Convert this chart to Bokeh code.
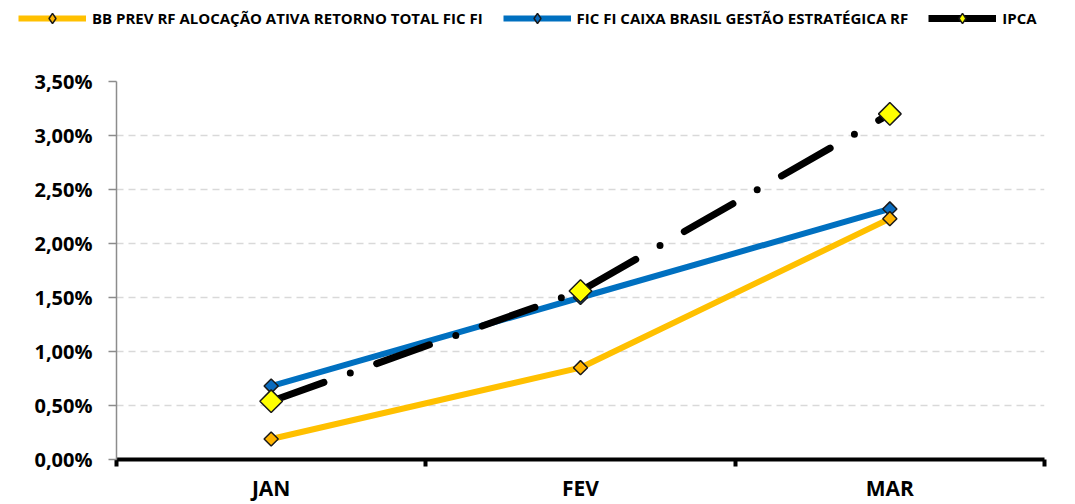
import math
from bokeh.plotting import figure
from bokeh.models import Range1d, FixedTicker, Legend, LegendItem
from bokeh.embed import file_html
from bokeh.resources import INLINE

# ---- data ----
months = ["JAN", "FEV", "MAR"]
bb_prev = [0.19, 0.85, 2.23]
caixa = [0.68, 1.50, 2.32]
ipca = [0.54, 1.56, 3.20]
series_names = [
    "BB PREV RF ALOCAÇÃO ATIVA RETORNO TOTAL FIC FI",
    "FIC FI CAIXA BRASIL GESTÃO ESTRATÉGICA RF",
    "IPCA",
]
y_ticks = [0.0, 0.5, 1.0, 1.5, 2.0, 2.5, 3.0, 3.5]
y_tick_labels = ["0,00%", "0,50%", "1,00%", "1,50%", "2,00%", "2,50%", "3,00%", "3,50%"]

x_pos = [i + 0.5 for i in range(len(months))]
x_bounds = [float(i) for i in range(len(months) + 1)]
series_values = [bb_prev, caixa, ipca]

FONT = "Open Sans"
COLORS_LINE = ["#FFC000", "#0070C0", "#000000"]
COLORS_MARK = ["#FFB400", "#0A6BBE", "#FFFF00"]
EDGE = "#1A1A1A"

# ---------- main chart ----------
p = figure(width=1075, height=468, output_backend="svg", toolbar_location=None,
           x_range=Range1d(0, len(months)), y_range=Range1d(0, 3.5),
           min_border_left=116, min_border_right=31, min_border_top=45, min_border_bottom=45)
p.outline_line_color = None
p.background_fill_color = "white"
p.border_fill_color = "white"

p.xgrid.grid_line_color = None
p.ygrid.ticker = FixedTicker(ticks=y_ticks)
p.ygrid.grid_line_color = "#D9D9D9"
p.ygrid.grid_line_width = 1.5
p.ygrid.grid_line_dash = "7 5"

p.yaxis.ticker = FixedTicker(ticks=y_ticks)
p.yaxis.major_label_overrides = {t: l for t, l in zip(y_ticks, y_tick_labels)}
p.yaxis.axis_line_color = "#8C8C8C"
p.yaxis.axis_line_width = 1.5
p.yaxis.major_tick_line_color = "#8C8C8C"
p.yaxis.major_tick_line_width = 1.5
p.yaxis.major_tick_out = 8
p.yaxis.major_tick_in = 0
p.yaxis.minor_tick_line_color = None
p.yaxis.major_label_standoff = 16
p.yaxis.major_label_text_font = FONT
p.yaxis.major_label_text_font_style = "bold"
p.yaxis.major_label_text_font_size = "20px"
p.yaxis.major_label_text_color = "#000000"

p.xaxis.ticker = FixedTicker(ticks=x_pos, minor_ticks=x_bounds)
p.xaxis.major_label_overrides = {t: l for t, l in zip(x_pos, months)}
p.xaxis.axis_line_color = "#000000"
p.xaxis.axis_line_width = 4
p.xaxis.major_tick_line_color = None
p.xaxis.major_tick_out = 0
p.xaxis.major_tick_in = 0
p.xaxis.minor_tick_line_color = "#000000"
p.xaxis.minor_tick_line_width = 4
p.xaxis.minor_tick_out = 7
p.xaxis.minor_tick_in = 0
p.xaxis.major_label_standoff = 7
p.xaxis.major_label_text_font = FONT
p.xaxis.major_label_text_font_style = "bold"
p.xaxis.major_label_text_font_size = "21px"
p.xaxis.major_label_text_color = "#000000"

p.line(x_pos, bb_prev, line_color=COLORS_LINE[0], line_width=6)
p.line(x_pos, caixa, line_color=COLORS_LINE[1], line_width=6)
p.line(x_pos, ipca, line_color=COLORS_LINE[2], line_width=7,
       line_dash="56 28 0 28", line_cap="round")
p.scatter(x_pos, caixa, marker="square", angle=math.pi / 4, size=10,
          fill_color=COLORS_MARK[1], line_color=EDGE, line_width=1.5)
p.scatter(x_pos, bb_prev, marker="square", angle=math.pi / 4, size=10,
          fill_color=COLORS_MARK[0], line_color=EDGE, line_width=1.5)
p.scatter(x_pos, ipca, marker="square", angle=math.pi / 4, size=16,
          fill_color=COLORS_MARK[2], line_color=EDGE, line_width=1.5)

# ---------- legend strip (separate root, series drawn out of view) ----------
lg = figure(width=1075, height=36, output_backend="svg", toolbar_location=None,
            x_range=Range1d(-20, -19), y_range=Range1d(-20, -19),
            x_axis_type=None, y_axis_type=None,
            min_border_left=0, min_border_right=0, min_border_top=0, min_border_bottom=0)
lg.outline_line_color = None
lg.xgrid.grid_line_color = None
lg.ygrid.grid_line_color = None
lg.background_fill_color = "white"
lg.border_fill_color = "white"

items = []
for i, name in enumerate(series_names):
    ln = lg.line(x_pos, series_values[i], line_color=COLORS_LINE[i],
                 line_width=6 if i < 2 else 7)
    mk = lg.scatter(x_pos, series_values[i], marker="diamond", size=10,
                    fill_color=COLORS_MARK[i], line_color=EDGE, line_width=1.5)
    items.append(LegendItem(label=name, renderers=[ln, mk]))

legend = Legend(items=items, orientation="horizontal", location=(18, 5))
legend.background_fill_alpha = 0
legend.border_line_color = None
legend.padding = 0
legend.margin = 0
legend.spacing = 20
legend.glyph_width = 68
legend.glyph_height = 26
legend.label_height = 26
legend.label_standoff = 6
legend.label_text_font = FONT
legend.label_text_font_style = "bold"
legend.label_text_font_size = "15px"
legend.label_text_color = "#000000"
lg.add_layout(legend, "center")

open("out.html", "w").write(file_html([lg, p], INLINE))
